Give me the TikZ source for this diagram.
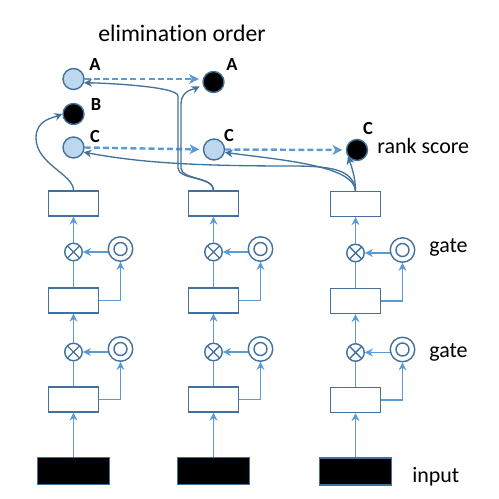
\documentclass[tikz,border=0pt]{standalone}
\usepackage{fontspec}
\setmainfont[Ligatures=NoCommon]{Carlito}
\usetikzlibrary{arrows.meta}
\definecolor{linecol}{RGB}{91,155,213}
\definecolor{edgecol}{RGB}{65,113,156}
\definecolor{fillcol}{RGB}{189,215,238}
\begin{document}
\begin{tikzpicture}[x=0.02cm,y=-0.02cm,
    cell/.style={draw=edgecol,line width=0.8pt,minimum width=1cm,minimum height=0.5cm,inner sep=0pt},
    inbox/.style={draw=edgecol,fill=black,line width=0.8pt,minimum width=1.44cm,minimum height=0.54cm,inner sep=0pt},
    mult/.style={circle,draw=edgecol,line width=0.8pt,minimum size=0.35cm,inner sep=0pt,
        path picture={\draw[edgecol,line width=0.8pt] (path picture bounding box.north west) -- (path picture bounding box.south east)
            (path picture bounding box.north east) -- (path picture bounding box.south west);}},
    gatec/.style={circle,draw=edgecol,line width=0.8pt,minimum size=0.49cm,inner sep=0pt,
        path picture={\draw[edgecol,line width=0.8pt] (path picture bounding box.center) circle (0.13cm);}},
    lite/.style={circle,draw=edgecol,fill=fillcol,line width=0.8pt,minimum size=0.42cm,inner sep=0pt},
    dark/.style={circle,draw=edgecol,fill=black,line width=0.8pt,minimum size=0.42cm,inner sep=0pt},
    lbl/.style={font=\fontsize{10.5}{12}\selectfont\bfseries,inner sep=0pt},
    txt/.style={font=\fontsize{12.5}{15}\selectfont,inner sep=0pt,anchor=base west},
    tip/.style={-{Stealth[length=4.5pt,width=4.5pt,inset=1.5pt]}},
    arr/.style={draw=linecol,line width=0.75pt,tip},
    plain/.style={draw=linecol,line width=0.75pt},
    dasharr/.style={draw=linecol,line width=1.4pt,dash pattern=on 3.4pt off 1.8pt,shorten >=2pt,
        -{Stealth[length=5.5pt,width=5.5pt,inset=1.5pt]}},
    curve/.style={draw=edgecol,line width=0.75pt,tip}]
\useasboundingbox (0,0) rectangle (499,499);
{\fontsize{12.5}{15}\selectfont

% Marking texts
\node (title) [txt,font=\fontsize{13.5}{16}\selectfont] at (98,42) {elimination order};%
\node (rank) [txt] at (377,154) {rank score};%
\node (gatetop) [txt] at (429,253) {gate};%
\node (gatelow) [txt] at (429,357) {gate};%
\node (inputtxt) [txt] at (412,482) {input};%

% Marking circles of the elimination order
\node (A1) [lite] at (73.5,79) {};%
\node (lA1) [lbl] at (95,65) {A};%
\node (B1) [dark] at (73.5,114) {};%
\node (lB1) [lbl] at (96,105) {B};%
\node (C1) [lite] at (73.5,147.5) {};%
\node (lC1) [lbl] at (95,137) {C};%
\node (A2) [dark] at (213.5,82) {};%
\node (lA2) [lbl] at (232,65) {A};%
\node (C2) [lite] at (214,149.5) {};%
\node (lC2) [lbl] at (229,136) {C};%
\node (C3) [dark] at (357,150) {};%
\node (lC3) [lbl] at (368,129) {C};%

% Marking column 1
\node (input1) [inbox] at (73.5,471) {};%
\node (lowbox1) [cell] at (73.5,399.5) {};%
\node (lowmul1) [mult] at (73.5,352) {};%
\node (lowgate1) [gatec] at (120.5,349) {};%
\node (midbox1) [cell] at (73.5,300.5) {};%
\node (upmul1) [mult] at (73.5,252) {};%
\node (upgate1) [gatec] at (120.5,249) {};%
\node (topbox1) [cell] at (73.5,203.5) {};%

% Marking column 2
\node (input2) [inbox] at (213.5,471) {};%
\node (lowbox2) [cell] at (213.5,399.5) {};%
\node (lowmul2) [mult] at (213.5,352) {};%
\node (lowgate2) [gatec] at (260.5,349) {};%
\node (midbox2) [cell] at (213.5,300.5) {};%
\node (upmul2) [mult] at (213.5,252) {};%
\node (upgate2) [gatec] at (260.5,249) {};%
\node (topbox2) [cell] at (213.5,203.5) {};%

% Marking column 3
\node (input3) [inbox] at (355.5,471.5) {};%
\node (lowbox3) [cell] at (355.5,400) {};%
\node (lowmul3) [mult] at (355.5,352.5) {};%
\node (lowgate3) [gatec] at (402.5,349.5) {};%
\node (midbox3) [cell] at (355.5,301) {};%
\node (upmul3) [mult] at (355.5,253) {};%
\node (upgate3) [gatec] at (402.5,250) {};%
\node (topbox3) [cell] at (355.5,204) {};%

% Drawing column 1
\draw [arr] (input1.north) -- (lowbox1.south);%
\draw [plain] (lowbox1.north) -- (lowmul1.south);%
\draw [arr] (lowmul1.north) -- (midbox1.south);%
\draw [arr] (lowbox1.east) -| (lowgate1.south);%
\draw [arr] (lowgate1.west |- lowmul1) -- (lowmul1.east);%
\draw [plain] (midbox1.north) -- (upmul1.south);%
\draw [arr] (upmul1.north) -- (topbox1.south);%
\draw [arr] (midbox1.east) -| (upgate1.south);%
\draw [arr] (upgate1.west |- upmul1) -- (upmul1.east);%

% Drawing column 2
\draw [arr] (input2.north) -- (lowbox2.south);%
\draw [plain] (lowbox2.north) -- (lowmul2.south);%
\draw [arr] (lowmul2.north) -- (midbox2.south);%
\draw [arr] (lowbox2.east) -| (lowgate2.south);%
\draw [arr] (lowgate2.west |- lowmul2) -- (lowmul2.east);%
\draw [plain] (midbox2.north) -- (upmul2.south);%
\draw [arr] (upmul2.north) -- (topbox2.south);%
\draw [arr] (midbox2.east) -| (upgate2.south);%
\draw [arr] (upgate2.west |- upmul2) -- (upmul2.east);%

% Drawing column 3
\draw [arr] (input3.north) -- (lowbox3.south);%
\draw [plain] (lowbox3.north) -- (lowmul3.south);%
\draw [arr] (lowmul3.north) -- (midbox3.south);%
\draw [arr] (lowbox3.east) -| (lowgate3.south);%
\draw [arr] (lowgate3.west |- lowmul3) -- (lowmul3.east);%
\draw [plain] (midbox3.north) -- (upmul3.south);%
\draw [arr] (upmul3.north) -- (topbox3.south);%
\draw [arr] (midbox3.east) -| (upgate3.south);%
\draw [arr] (upgate3.west |- upmul3) -- (upmul3.east);%

% Drawing the elimination order
\draw [dasharr] (A1.east) -- (A1.east -| A2.west);%
\draw [dasharr] (C1.east) -- (C2.west);%
\draw [dasharr] (C2.east) -- (C3.west);%

% Drawing curves from the top boxes
\draw [curve] (topbox1.north) .. controls +(0,-16) and +(0,26) .. (36,138) .. controls +(0,-18) and +(-10,4) .. (B1.west);%
\draw [curve] (topbox2.north) .. controls +(0,-14) and +(0,12) .. (178,168) -- (178,96) .. controls +(0,-10) and +(15,0) .. (A1.-20);%
\draw [curve,shorten >=2pt] (topbox2.north) .. controls +(0,-14) and +(0,12) .. (181,168) -- (181,104) .. controls +(0,-14) and +(-8,4) .. (A2.195);%
\draw [curve] (topbox3.north) .. controls +(0,-14) and +(3,8) .. (C3.215);%
\draw [curve] (topbox3.north) .. controls +(-2,-25) and +(60,8) .. (C2.-15);%
\draw [curve] (topbox3.north) .. controls +(-2,-22) and +(40,0) .. (290,166) .. controls +(-110,0) and +(50,9) .. (C1.-25);%
}
\end{tikzpicture}
\end{document}
